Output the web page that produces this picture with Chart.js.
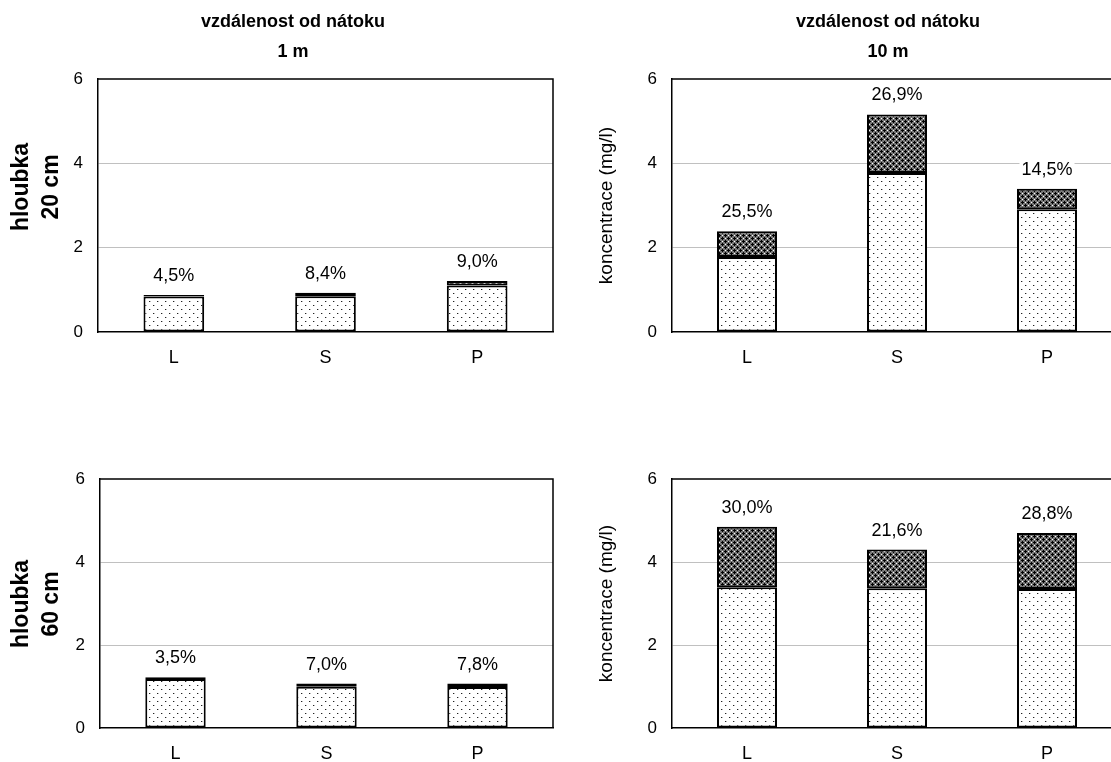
<!DOCTYPE html>
<html lang="cs">
<head>
<meta charset="UTF-8">
<title>Koncentrace podle vzdálenosti od nátoku a hloubky</title>
<script src="https://cdn.jsdelivr.net/npm/chart.js"></script>
<style>
  html, body { margin: 0; padding: 0; background: #fff; overflow: hidden; }
  #page { position: relative; width: 1111px; height: 762px; overflow: hidden; background: #fff; }
  #page canvas { position: absolute; }
</style>
</head>
<body>
<div id="page">
  <canvas id="c1m20" width="580" height="380" style="left:0;top:0"></canvas>
  <canvas id="c10m20" width="580" height="380" style="left:580px;top:0"></canvas>
  <canvas id="c1m60" width="580" height="362" style="left:0;top:400px"></canvas>
  <canvas id="c10m60" width="580" height="362" style="left:580px;top:400px"></canvas>
</div>
<script>
const categories = ['L', 'S', 'P'];
const yTicks = [0, 2, 4, 6];

// 1 m, hloubka 20 cm
const base_1m_20 = [0.84, 0.85, 1.10];
const extra_1m_20 = [0.04, 0.08, 0.11];
const pct_1m_20 = [4.5, 8.4, 9.0];

// 10 m, hloubka 20 cm
const base_10m_20 = [1.78, 3.77, 2.91];
const extra_10m_20 = [0.61, 1.39, 0.49];
const pct_10m_20 = [25.5, 26.9, 14.5];

// 1 m, hloubka 60 cm
const base_1m_60 = [1.18, 0.995, 0.99];
const extra_1m_60 = [0.04, 0.075, 0.08];
const pct_1m_60 = [3.5, 7.0, 7.8];

// 10 m, hloubka 60 cm
const base_10m_60 = [3.39, 3.37, 3.35];
const extra_10m_60 = [1.46, 0.93, 1.35];
const pct_10m_60 = [30.0, 21.6, 28.8];

const FONT = 'Arial, "Liberation Sans", sans-serif';

// small tiles used as fill patterns
function tile(w, h, paint) {
  const c = document.createElement('canvas');
  c.width = w; c.height = h;
  paint(c.getContext('2d'));
  return c;
}
function px(g, x, y, col) { g.fillStyle = col; g.fillRect(x, y, 1, 1); }

const dotTile = tile(8, 8, g => {
  g.fillStyle = '#fff'; g.fillRect(0, 0, 8, 8);
  [[1, 1], [5, 5]].forEach(([x, y]) => {
    px(g, x, y, '#222');
    px(g, x + 1, y, '#bbb');
  });
});

const hatchTile = tile(6, 6, g => {
  g.fillStyle = '#777'; g.fillRect(0, 0, 6, 6);
  [[1, 1], [4, 4]].forEach(([x, y]) => {
    [[0, 0], [1, 0], [-1, 0], [0, 1], [0, -1]].forEach(([dx, dy]) => {
      px(g, (x + dx + 6) % 6, (y + dy + 6) % 6, '#000');
    });
  });
  px(g, 4, 1, '#fff');
  px(g, 1, 4, '#fff');
});

// top and right edge of the plot area
const frame = {
  id: 'frame',
  afterDatasetsDraw(chart) {
    const { ctx, chartArea: a } = chart;
    ctx.save();
    ctx.strokeStyle = '#000';
    ctx.lineWidth = 1.5;
    ctx.beginPath();
    ctx.moveTo(a.left, a.top);
    ctx.lineTo(a.right, a.top);
    ctx.lineTo(a.right, a.bottom);
    ctx.stroke();
    ctx.restore();
  }
};

// share of the upper segment written above each stack
const pctLabels = {
  id: 'pctLabels',
  afterDatasetsDraw(chart, args, opts) {
    const { ctx } = chart;
    const bars = chart.getDatasetMeta(1).data;
    ctx.save();
    ctx.font = '18px ' + FONT;
    ctx.textAlign = 'center';
    ctx.textBaseline = 'middle';
    bars.forEach((bar, i) => {
      const txt = opts.values[i].toFixed(1).replace('.', ',') + '%';
      const y = bar.y - 19;
      const w = ctx.measureText(txt).width;
      ctx.fillStyle = '#fff';
      ctx.fillRect(bar.x - w / 2 - 2, y - 9, w + 4, 18);
      ctx.fillStyle = '#000';
      ctx.fillText(txt, bar.x, y);
    });
    ctx.restore();
  }
};

// column heading and row label text
const headings = {
  id: 'headings',
  afterDraw(chart, args, opts) {
    const { ctx } = chart;
    ctx.save();
    ctx.fillStyle = '#000';
    ctx.textAlign = 'center';
    ctx.textBaseline = 'middle';
    if (opts.title) {
      ctx.font = 'bold 18px ' + FONT;
      opts.title.forEach((line, i) => ctx.fillText(line, opts.titleX, 22 + i * 30));
    }
    if (opts.row) {
      ctx.font = 'bold 23px ' + FONT;
      ctx.translate(0, opts.rowY);
      ctx.rotate(-Math.PI / 2);
      opts.row.forEach((line, i) => ctx.fillText(line, 0, 22 + i * 30));
    }
    ctx.restore();
  }
};

function makeChart(id, cfg) {
  const canvas = document.getElementById(id);
  const c2d = canvas.getContext('2d');
  const dots = c2d.createPattern(dotTile, 'repeat');
  const hatch = c2d.createPattern(hatchTile, 'repeat');
  const barStyle = {
    borderColor: '#000',
    borderWidth: 2,
    borderSkipped: false,
    barPercentage: 0.5,
    categoryPercentage: 0.8
  };
  return new Chart(canvas, {
    type: 'bar',
    data: {
      labels: categories,
      datasets: [
        Object.assign({ data: cfg.base, backgroundColor: dots }, barStyle),
        Object.assign({ data: cfg.extra, backgroundColor: hatch }, barStyle)
      ]
    },
    options: {
      responsive: false,
      animation: false,
      events: [],
      layout: { padding: { top: 79, right: cfg.padRight, left: 0, bottom: 0 } },
      plugins: {
        legend: { display: false },
        tooltip: { enabled: false },
        pctLabels: { values: cfg.pct },
        headings: { title: cfg.title, titleX: cfg.titleX, row: cfg.row, rowY: cfg.rowY }
      },
      scales: {
        x: {
          stacked: true,
          grid: { display: false, drawTicks: false },
          border: { color: '#000', width: 1.5 },
          ticks: { color: '#000', font: { family: FONT, size: 18 }, padding: 15 },
          afterFit(s) { s.height = cfg.xHeight; }
        },
        y: {
          stacked: true,
          min: 0,
          max: 6,
          afterBuildTicks(s) { s.ticks = yTicks.map(v => ({ value: v })); },
          grid: {
            drawTicks: false,
            color: c => (c.tick && (c.tick.value === 0 || c.tick.value === 6)) ? 'rgba(0,0,0,0)' : '#c0c0c0',
            lineWidth: 1
          },
          border: { color: '#000', width: 1.5 },
          ticks: { color: '#000', font: { family: FONT, size: 17 }, padding: 15 },
          title: cfg.yTitle ? {
            display: true,
            text: cfg.yTitle,
            color: '#000',
            font: { family: FONT, size: 19, lineHeight: 1.2 },
            padding: { top: 15, bottom: 0 }
          } : { display: false },
          afterFit(s) { s.width = cfg.yWidth; }
        }
      }
    },
    plugins: [frame, pctLabels, headings]
  });
}

makeChart('c1m20', {
  base: base_1m_20, extra: extra_1m_20, pct: pct_1m_20,
  title: ['vzdálenost od nátoku', '1 m'], titleX: 293,
  row: ['hloubka', '20 cm'], rowY: 187,
  yWidth: 98, padRight: 27, xHeight: 48
});
makeChart('c10m20', {
  base: base_10m_20, extra: extra_10m_20, pct: pct_10m_20,
  title: ['vzdálenost od nátoku', '10 m'], titleX: 308,
  yTitle: 'koncentrace (mg/l)',
  yWidth: 92, padRight: 38, xHeight: 48
});
makeChart('c1m60', {
  base: base_1m_60, extra: extra_1m_60, pct: pct_1m_60,
  row: ['hloubka', '60 cm'], rowY: 204,
  yWidth: 100, padRight: 27, xHeight: 34
});
makeChart('c10m60', {
  base: base_10m_60, extra: extra_10m_60, pct: pct_10m_60,
  yTitle: 'koncentrace (mg/l)',
  yWidth: 92, padRight: 38, xHeight: 34
});
</script>
</body>
</html>
